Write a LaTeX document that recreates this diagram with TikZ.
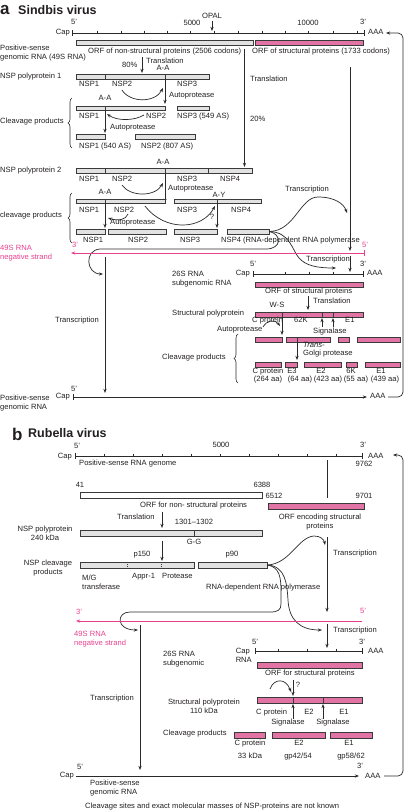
\documentclass[tikz,border=0pt]{standalone}
\usepackage{fontspec}
\setmainfont{Liberation Sans}
\usetikzlibrary{arrows.meta,fit,decorations.pathreplacing}
\definecolor{txt}{HTML}{231F20}
\definecolor{ln}{HTML}{2A2A2A}
\definecolor{gfill}{HTML}{E2E2E2}
\definecolor{bord}{HTML}{3A3A3A}
\definecolor{pfill}{HTML}{E273A5}
\definecolor{pink}{HTML}{E8408F}
\newcommand\bx[6]{\node[#1, fit={(#3,#4)(#5,#6)}] (#2) {};}
\tikzset{
 lbl/.style={font=\fontsize{7.6}{9}\selectfont, inner sep=0pt, text height=5.4pt, text depth=1.6pt, text=txt},
 t/.style={lbl, anchor=west},
 tc/.style={lbl, anchor=center},
 te/.style={lbl, anchor=east},
 ml/.style={font=\fontsize{7.6}{9}\selectfont, inner sep=0pt, text=txt, align=left, anchor=west},
 mc/.style={font=\fontsize{7.6}{9}\selectfont, inner sep=0pt, text=txt, align=center, anchor=center},
 gbar/.style={draw=bord, fill=gfill, line width=0.6pt, inner sep=0pt},
 pbar/.style={draw=bord, fill=pfill, line width=0.6pt, inner sep=0pt},
 wbar/.style={draw=bord, fill=white, line width=0.6pt, inner sep=0pt},
 conn/.style={draw=ln, line width=0.7pt},
 arr/.style={conn, -{Stealth[length=4.2pt,width=3.2pt]}},
 rna/.style={draw=ln, line width=0.9pt},
 div/.style={draw=bord, line width=0.6pt},
 brc/.style={draw=ln, line width=0.6pt, decorate, decoration={brace, amplitude=4pt}},
 ttl/.style={font=\fontsize{12.5}{14}\selectfont\bfseries, inner sep=0pt, anchor=west, text=txt},
 pl/.style={font=\fontsize{17}{18}\selectfont\bfseries, inner sep=0pt, anchor=west, text=txt},
}
\begin{document}
\begin{tikzpicture}[x=1pt,y=-1pt]
\useasboundingbox (0,0) rectangle (407,812);
%%%%%%%%%%%%%%%% PART A
\node[pl] (pa) at (0,10) {a};
\node[ttl] (ta) at (18,10) {Sindbis virus};
\node[tc] (a5) at (74,23) {5'};
\node[tc] (a5000) at (192,24) {5000};
\node[tc] (opal) at (212,17) {OPAL};
\node[tc] (a10000) at (308,24) {10000};
\node[tc] (a3) at (363,23) {3'};
\node[te] (acap) at (70,33) {Cap};
\node[t] (aaaa) at (368,33) {AAA};
\coordinate (g1s) at (72,33); \coordinate (g1e) at (364,33);
\draw[rna] (g1s) -- (g1e);
\draw[conn] (72,30) -- (72,36) (364,30) -- (364,36);
\foreach \x in {97,121,144,167,190,214,238,262,285,308,333,357} \draw[conn] (\x,30.5) -- (\x,33);
\coordinate (opalt) at (212,31);
\draw[arr] (opal.south) -- (opalt);
% ORFs
\bx{gbar}{orfns}{76}{40}{253}{45}
\bx{pbar}{orfs}{255}{40}{363}{45}
\node[ml] (psg) at (0,53.3) {Positive-sense\\genomic RNA (49S RNA)};
\node[t] (orfnsl) at (88,52) {ORF of non-structural proteins (2506 codons)};
\node[t] (orfsl) at (252,52) {ORF of structural proteins (1733 codons)};
\coordinate (tr20s) at (244.5,49);
\draw[arr] (tr20s) -- (244.5,167);
\node[t] (tr20) at (250,80) {Translation};
\node[t] (p20) at (250,120) {20\%};
\coordinate (trn1s) at (350,67);
\draw[arr] (trn1s) -- (350,251);
\coordinate (trn2s) at (350,256);
\draw[arr] (trn2s) -- (350,272);
% polyprotein 1
\node[t] (p80) at (122,66) {80\%};
\node[t] (tr80) at (146,62) {Translation};
\draw[arr] (142,57) -- (142,73);
\node[tc] (aa1) at (163,69) {A-A};
\bx{gbar}{pp1}{76}{74}{209}{79}
\draw[div] (105,74) -- (105,79) (165,74) -- (165,79);
\node[t] (pp1l) at (0,77) {NSP polyprotein 1};
\node[t] (n11) at (79,85) {NSP1};
\node[t] (n12) at (112,85) {NSP2};
\node[t] (n13) at (177,85) {NSP3};
\draw[arr] (122,90) .. controls (130,103) and (155,103) .. (163,88);
\draw[arr] (165,79) -- (165,104);
\node[t] (ap1) at (169,96) {Autoprotease};
\node[tc] (aa2) at (105,99) {A-A};
\bx{gbar}{c11}{76}{106}{165}{110}
\draw[div] (105,106) -- (105,110);
\bx{gbar}{c12}{177}{106}{209}{110}
\node[t] (n21) at (79,117) {NSP1};
\node[t] (n22) at (146,117) {NSP2};
\node[t] (n23) at (177,117) {NSP3 (549 AS)};
\draw[arr] (144,115) .. controls (134,121) and (117,121) .. (107,114);
\draw[arr] (105,110) -- (105,133);
\node[t] (ap2) at (110,128) {Autoprotease};
\bx{gbar}{c21}{76}{134}{105}{139}
\bx{gbar}{c22}{135}{134}{195}{139}
\node[t] (n31) at (79,147) {NSP1 (540 AS)};
\node[t] (n32) at (141,147) {NSP2 (807 AS)};
\draw[brc] (72,148) -- (72,98);
\node[t] (cpl1) at (0,122) {Cleavage products};
% polyprotein 2
\node[tc] (aa3) at (163,163) {A-A};
\bx{gbar}{pp2}{76}{168}{252}{173}
\draw[div] (105,168) -- (105,173) (165,168) -- (165,173) (208,168) -- (208,173);
\node[t] (pp2l) at (0,171) {NSP polyprotein 2};
\node[t] (m11) at (79,180) {NSP1};
\node[t] (m12) at (112,180) {NSP2};
\node[t] (m13) at (177,180) {NSP3};
\node[t] (m14) at (220,180) {NSP4};
\draw[arr] (122,185) .. controls (130,197) and (155,197) .. (163,183);
\draw[arr] (165,173) -- (165,203);
\node[t] (ap3) at (168,189) {Autoprotease};
\node[tc] (aa4) at (105,193) {A-A};
\node[tc] (ay) at (219,195.5) {A-Y};
\bx{gbar}{d11}{76}{199}{165}{203}
\draw[div] (105,199) -- (105,203);
\bx{gbar}{d12}{174}{199}{261}{203}
\draw[div] (217,199) -- (217,203);
\node[t] (m21) at (79,211) {NSP1};
\node[t] (m22) at (114,211) {NSP2};
\node[t] (m23) at (177,211) {NSP3};
\node[t] (m24) at (231,211) {NSP4};
\draw[arr] (145,206) .. controls (165,232) and (202,230) .. (215,206);
\draw[arr] (128,214) .. controls (126,220) and (118,221) .. (108,218);
\draw[arr] (105,203) -- (105,228);
\draw[arr] (217,203) -- (217,228);
\node[tc] (qm1) at (212,218) {?};
\node[t] (ap4) at (110,223) {Autoprotease};
\bx{gbar}{e1}{76}{229}{105}{234}
\bx{gbar}{e2}{108}{229}{166}{234}
\bx{gbar}{e3}{174}{229}{217}{234}
\bx{gbar}{e4}{227}{229}{269}{234}
\node[t] (k1) at (83,241) {NSP1};
\node[t] (k2) at (128,241) {NSP2};
\node[t] (k3) at (180,241) {NSP3};
\node[t] (k4) at (221,241) {NSP4 (RNA-dependent RNA polymerase};
\draw[brc] (72,243) -- (72,193);
\node[t] (cpl2) at (0,216) {cleavage products};
% transcription curves from NSP4
\node[t] (trc1) at (285,190) {Transcription};
\draw[arr] (e4.east) .. controls (295,231) and (300,197) .. (318,197) .. controls (335,197) and (344,204) .. (347,213);
\node[t] (trc2) at (306,260) {Transcription};
\draw[arr] (e4.east) .. controls (290,232) and (292,250) .. (299,258) .. controls (306,266) and (318,268) .. (336,268);
\draw[conn, -{Stealth[length=4.2pt,width=3.2pt]}] (e4.east) .. controls (282,234) and (282,249) .. (266,249) -- (100,249) .. controls (84,250) and (86,274) .. (103,274);
% negative strand
\coordinate (ns1e) at (364,253); \coordinate (ns1s) at (71,253);
\draw[draw=pink, line width=0.9pt, -{Stealth[length=4.2pt,width=3.2pt]}] (ns1e) -- (ns1s);
\draw[draw=pink, line width=0.8pt] (364,250) -- (364,256);
\node[tc, text=pink] (ns13) at (75,246) {3'};
\node[tc, text=pink] (ns15) at (365,246) {5'};
\node[ml, text=pink] (ns1l) at (0,252.8) {49S RNA\\negative strand};
\coordinate (tr3s) at (105,257);
\draw[arr] (tr3s) -- (105,393);
\node[t] (tr3) at (55,321) {Transcription};
% 26S
\node[tc] (s5) at (253,265) {5'};
\node[tc] (s3) at (363,265) {3'};
\node[te] (scap) at (250,274) {Cap};
\node[t] (saaa) at (367,274) {AAA};
\draw[rna] (253,274) -- (363,274);
\draw[conn] (253,271) -- (253,277) (363,271) -- (363,277);
\foreach \x in {285,309,333} \draw[conn] (\x,271.5) -- (\x,274);
\node[ml] (s26) at (172,279.3) {26S RNA\\subgenomic RNA};
\bx{pbar}{sorf}{255}{282}{363}{287}
\node[t] (sorfl) at (265,292) {ORF of structural proteins};
\draw[arr] (308,296) -- (308,310);
\node[t] (str) at (313,302) {Translation};
\node[tc] (ws) at (277,306) {W-S};
\bx{pbar}{spp}{255}{312}{363}{317}
\draw[div] (282,312) -- (282,317) (322,312) -- (322,317) (333,312) -- (333,317);
\node[t] (sppl) at (172,314) {Structural polyprotein};
\node[t] (scp) at (252,321) {C protein};
\node[t] (s62) at (294,321) {62K};
\node[t] (se1) at (345,321) {E1};
\draw[arr] (322,327) -- (322,318);
\draw[arr] (333,327) -- (333,318);
\node[t] (ssig) at (313,332) {Signalase};
\node[t] (sap) at (217,330) {Autoprotease};
\draw[arr] (263,327) .. controls (267,320) and (275,319) .. (280,326);
\draw[arr] (282,317) -- (282,335);
\bx{pbar}{f1}{255}{337}{282}{342}
\bx{pbar}{f2}{286}{337}{330}{342}
\draw[div] (297,337) -- (297,342);
\bx{pbar}{f3}{338}{337}{349}{342}
\bx{pbar}{f4}{357}{337}{400}{342}
\draw[arr] (297,342) -- (297,360);
\node[t] (trans) at (303,346) {\textit{Trans-}};
\node[t] (golgi) at (303,354) {Golgi protease};
\bx{pbar}{h1}{255}{362}{281}{367}
\bx{pbar}{h2}{285}{362}{297}{367}
\bx{pbar}{h3}{304}{362}{341}{367}
\bx{pbar}{h4}{346}{362}{357}{367}
\bx{pbar}{h5}{365}{362}{400}{367}
\node[tc] (q1) at (268,372) {C protein};
\node[tc] (q2) at (292,372) {E3};
\node[tc] (q3) at (321,372) {E2};
\node[tc] (q4) at (351,372) {6K};
\node[tc] (q5) at (381,372) {E1};
\node[tc] (r1) at (268,380) {(264 aa)};
\node[tc] (r2) at (300,380) {(64 aa)};
\node[tc] (r3) at (328,380) {(423 aa)};
\node[tc] (r4) at (356,380) {(55 aa)};
\node[tc] (r5) at (385,380) {(439 aa)};
\draw[brc] (238,383) -- (238,334);
\node[t] (cpl3) at (162,358) {Cleavage products};
% bottom genome a
\node[tc] (b5) at (74,390) {5'};
\node[te] (bcap) at (70,397) {Cap};
\node[t] (baaa) at (370,397) {AAA};
\draw[rna, -{Stealth[length=4.2pt,width=3.2pt]}] (73,397) -- (367,397);
\draw[conn] (73,394) -- (73,400);
\node[ml] (bpsg) at (0,402.8) {Positive-sense\\genomic RNA};
\draw[arr, rounded corners=5pt] (388,397) -- (403,397) -- (403,33) -- (386,33);
%%%%%%%%%%%%%%%% PART B
\node[pl] (pb) at (12,434) {b};
\node[ttl] (tb) at (28,433) {Rubella virus};
\node[tc] (c5) at (77,447) {5'};
\node[tc] (c5000) at (221,446) {5000};
\node[tc] (c3) at (363,446) {3'};
\node[te] (ccap) at (72,457) {Cap};
\node[t] (caaa) at (368,457) {AAA};
\node[tc] (c9762) at (364,465) {9762};
\draw[rna] (75,456) -- (362,456);
\draw[conn] (75,453) -- (75,459) (362,453) -- (362,459);
\foreach \x in {104,133,162,191,220,249,278,307,336} \draw[conn] (\x,453.5) -- (\x,456);
\node[t] (cpsr) at (79,464) {Positive-sense RNA genome};
\draw[conn] (327,460) -- (327,498);
\node[tc] (c41) at (80,486) {41};
\bx{wbar}{corfns}{80}{492}{262}{498}
\node[tc] (c6388) at (262,486) {6388};
\node[tc] (c6512) at (274,497) {6512};
\node[tc] (c9701) at (364,497) {9701};
\bx{pbar}{corfs}{268}{503}{364}{509}
\node[mc] (corfsl) at (320,522.3) {ORF encoding structural\\proteins};
\node[t] (corfnsl) at (140,506) {ORF for non- structural proteins};
\node[t] (ctr) at (117,518) {Translation};
\draw[arr] (162,512) -- (162,528);
\node[tc] (c1301) at (194,523) {1301--1302};
\node[mc] (cppl) at (45,533.3) {NSP polyprotein\\240 kDa};
\bx{gbar}{cpp}{80}{530}{262}{536}
\draw[div] (194,530) -- (194,536);
\node[tc] (cgg) at (194,543) {G-G};
\draw[arr] (162,541) -- (162,561);
\node[tc] (p150) at (142,555) {p150};
\node[tc] (p90l) at (232,555) {p90};
\node[mc] (ccpl) at (48,568.3) {NSP cleavage\\products};
\bx{gbar}{cp150}{80}{562}{194}{568}
\draw[div, dash pattern=on 1pt off 1pt] (127,562) -- (127,568) (161,562) -- (161,568);
\bx{gbar}{cp90}{198}{562}{267}{568}
\node[ml] (cmg) at (82,582.3) {M/G\\transferase};
\node[t] (cappr) at (132,577) {Appr-1};
\node[t] (cprot) at (162,577) {Protease};
\node[t] (crdrp) at (206,588) {RNA-dependent RNA polymerase};
% curves from p90
\draw[arr] (cp90.east) .. controls (290,564) and (298,537) .. (314,536) .. controls (320,536) and (324,539) .. (325,545);
\draw[arr] (327,537) -- (327,612);
\node[t] (ctr1) at (333,554) {Transcription};
\draw[conn, -{Stealth[length=4.2pt,width=3.2pt]}] (cp90.east) .. controls (280,567) and (281,578) .. (281,592) -- (281,604) .. controls (281,610) and (278,612) .. (270,612) -- (130,612) .. controls (116,612) and (116,630) .. (138,630);
\draw[arr] (cp90.east) .. controls (286,566) and (287,585) .. (288,600) .. controls (289,620) and (300,630) .. (322,630);
\node[t] (ctr2) at (333,631) {Transcription};
\draw[arr] (327,624) -- (327,648);
% negative strand b
\coordinate (ns2e) at (362,621); \coordinate (ns2s) at (76,621);
\draw[draw=pink, line width=0.9pt, -{Stealth[length=4.2pt,width=3.2pt]}] (ns2e) -- (ns2s);
\node[tc, text=pink] (ns23) at (79,613) {3'};
\node[tc, text=pink] (ns25) at (363,612) {5'};
\node[ml, text=pink] (ns2l) at (74,638.8) {49S RNA\\negative strand};
\draw[arr] (140,625) -- (140,770);
\node[t] (ctr3) at (90,699) {Transcription};
% 26S b
\node[ml] (c26) at (163,658.8) {26S RNA\\subgenomic};
\node[te] (c26cap) at (250,652) {Cap};
\node[te] (c26rna) at (252,661) {RNA};
\node[tc] (c26s5) at (255,643) {5'};
\node[tc] (c26s3) at (362,643) {3'};
\node[t] (c26aaa) at (368,652) {AAA};
\draw[rna] (255,651) -- (362,651);
\draw[conn] (255,648) -- (255,654) (362,648) -- (362,654);
\foreach \x in {278,307,336} \draw[conn] (\x,648.5) -- (\x,651);
\bx{pbar}{c26orf}{257}{662}{362}{668}
\node[tc] (c26orfl) at (310,674) {ORF for structural proteins};
\draw[arr] (293,680) -- (293,696);
\node[tc] (qm2) at (298,686) {?};
\draw[arr] (270,689) .. controls (274,678) and (286,678) .. (291,692);
\bx{pbar}{cspp}{257}{697}{362}{703}
\draw[div] (293,697) -- (293,703) (323,697) -- (323,703);
\node[mc] (csppl) at (204,706.3) {Structural polyprotein\\110 kDa};
\node[t] (ccp) at (256,713) {C protein};
\node[tc] (ce2) at (309,713) {E2};
\node[tc] (ce1) at (344,713) {E1};
\draw[arr] (293,719) -- (293,704);
\draw[arr] (323,719) -- (323,704);
\node[tc] (csig1) at (288,723) {Signalase};
\node[tc] (csig2) at (333,723) {Signalase};
\node[t] (ccpl2) at (163,734) {Cleavage products};
\bx{pbar}{cc1}{234}{732}{265}{738}
\bx{pbar}{cc2}{272}{732}{325}{738}
\bx{pbar}{cc3}{330}{732}{372}{738}
\node[tc] (u1) at (250,744) {C protein};
\node[tc] (u2) at (299,744) {E2};
\node[tc] (u3) at (349,744) {E1};
\node[tc] (v1) at (250,757) {33 kDa};
\node[tc] (v2) at (298,757) {gp42/54};
\node[tc] (v3) at (351,757) {gp58/62};
% bottom genome b
\node[tc] (d5) at (80,768) {5'};
\node[te] (dcap) at (74,776) {Cap};
\node[tc] (d3) at (360,767) {3'};
\node[t] (daaa) at (365,777) {AAA};
\draw[rna, -{Stealth[length=4.2pt,width=3.2pt]}] (76,776) -- (359,776);
\node[ml] (dpsg) at (90,787.8) {Positive-sense\\genomic RNA};
\draw[arr, rounded corners=5pt] (384,776) -- (403,776) -- (403,455) -- (393,455);
\node[t] (foot) at (85,807) {Cleavage sites and exact molecular masses of NSP-proteins are not known};
\end{tikzpicture}
\end{document}
